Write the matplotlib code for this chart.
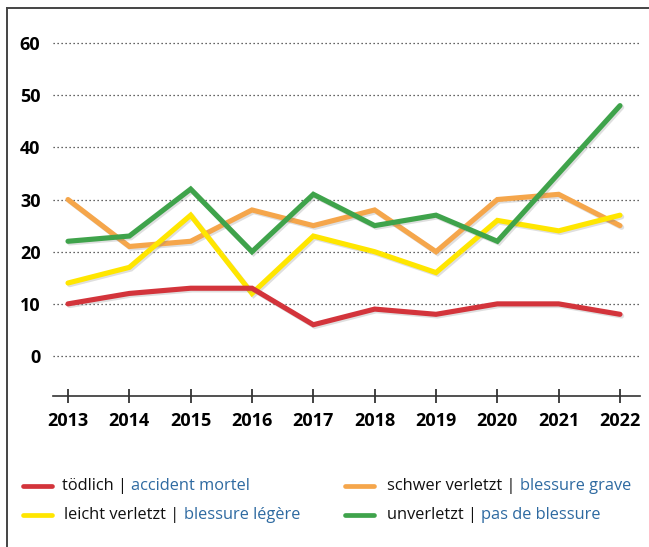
import matplotlib
matplotlib.use("Agg")
import matplotlib.pyplot as plt
import matplotlib.patheffects as pe
from matplotlib.lines import Line2D

years = [2013, 2014, 2015, 2016, 2017, 2018, 2019, 2020, 2021, 2022]
toedlich = [10, 12, 13, 13, 6, 9, 8, 10, 10, 8]
schwer = [30, 21, 22, 28, 25, 28, 20, 30, 31, 25]
leicht = [14, 17, 27, 12, 23, 20, 16, 26, 24, 27]
unverletzt = [22, 23, 32, 20, 31, 25, 27, 22, 35, 48]
yticks = [0, 10, 20, 30, 40, 50, 60]

labels_de = ["tödlich", "schwer verletzt", "leicht verletzt", "unverletzt"]
labels_fr = ["accident mortel", "blessure grave", "blessure légère", "pas de blessure"]

c_red = "#d3343b"
c_orange = "#f5a64b"
c_yellow = "#ffe600"
c_green = "#3fa34b"
c_blue = "#2e6aa1"

plt.rcParams['font.family'] = ['Open Sans', 'DejaVu Sans']

fig = plt.figure(figsize=(6.49, 5.47), dpi=100)
ax = fig.add_axes([53/649, 1 - 395.7/547, (640-53)/649, (395.7-37.8)/547])

shadow = [pe.SimpleLineShadow(offset=(1.2, -1.2), shadow_color='gray', alpha=0.25), pe.Normal()]
lw = 3.7
for vals, col, z in [(schwer, c_orange, 3), (leicht, c_yellow, 4), (unverletzt, c_green, 5), (toedlich, c_red, 6)]:
    ax.plot(years, vals, color=col, lw=lw, solid_capstyle='round', solid_joinstyle='miter',
            path_effects=shadow, zorder=z)

ax.set_xlim(2013 - 15/61.33, 2022 + 20/61.33)
ax.set_ylim(-7.6, 61)
ax.set_yticks(yticks)
ax.set_xticks(years)
ax.set_xticklabels([str(y) for y in years], fontsize=13, fontweight='bold')
ax.set_yticklabels([str(v) for v in yticks], fontsize=13, fontweight='bold')
ax.tick_params(axis='y', length=0, pad=9)
ax.tick_params(axis='x', direction='inout', length=10, width=1.2, color='#222', pad=7)
for v in yticks:
    ax.axhline(v, color='#333', lw=0.9, ls=(0, (1, 2.2)), zorder=1)
for s in ['top', 'right', 'left']:
    ax.spines[s].set_visible(False)
ax.spines['bottom'].set_color('#333')
ax.spines['bottom'].set_linewidth(1.2)

# frame
fig.add_artist(Line2D([7.3/649, 7.3/649], [0, 1 - 8/547], color='#444', lw=1.4, transform=fig.transFigure))
fig.add_artist(Line2D([7.3/649, 1], [1 - 8/547, 1 - 8/547], color='#444', lw=1.4, transform=fig.transFigure))

# legend
leg_font = ['Open Sans', 'DejaVu Sans']
entries = [
    (c_red, labels_de[0], labels_fr[0], 23, 62, 486),
    (c_orange, labels_de[1], labels_fr[1], 345, 387, 486),
    (c_yellow, labels_de[2], labels_fr[2], 23, 64, 515),
    (c_green, labels_de[3], labels_fr[3], 345, 387, 515),
]
fig.canvas.draw()
r = fig.canvas.get_renderer()
for col, de, fr, hx, tx, y in entries:
    yf = 1 - y/547
    fig.add_artist(Line2D([hx/649, (hx+29)/649], [yf, yf], color=col, lw=3.4,
                          solid_capstyle='round', transform=fig.transFigure))
    t = fig.text(tx/649, yf, de + " | ", fontsize=11.8, color='#111', va='center', ha='left',
                 family=leg_font)
    bb = t.get_window_extent(renderer=r)
    fig.text(bb.x1/649, yf, fr, fontsize=11.8, color=c_blue, va='center', ha='left',
             family=leg_font)

fig.savefig("out.png", dpi=100)
